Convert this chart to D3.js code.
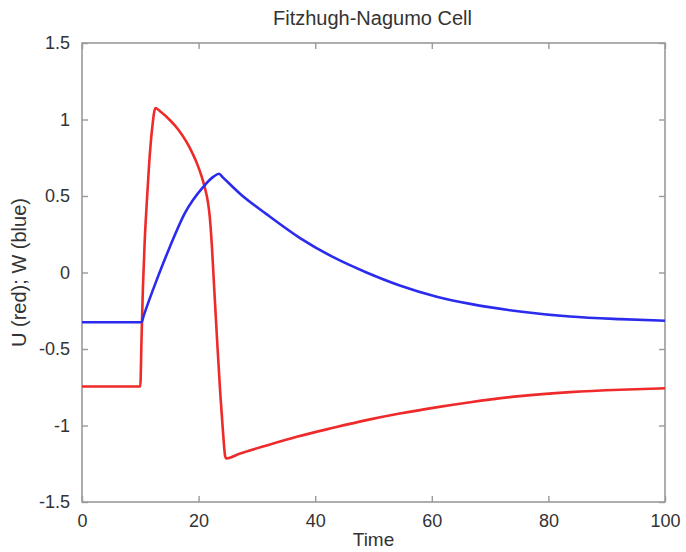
<!DOCTYPE html>
<html>
<head>
<meta charset="utf-8">
<script src="https://cdn.jsdelivr.net/npm/d3@7"></script>
<style>
  html, body { margin: 0; padding: 0; background: #fff; }
  svg { display: block; font-family: "Liberation Sans", Arial, sans-serif; }
</style>
</head>
<body>
<svg id="chart" width="686" height="552"></svg>
<script>
// Fitzhugh-Nagumo cell response: membrane variable U and recovery variable W over time
const timeU = [0, 10, 10.2, 10.45, 10.75, 11.1, 11.5, 12.0, 12.6, 13.5, 15.1, 16.5, 17.9, 19.0, 19.8, 20.5, 21.1, 21.6, 21.9, 22.3, 22.7, 23.2, 23.7, 24.2, 24.55, 24.75, 27.0, 31.7, 37.0, 43.1, 48.8, 54.5, 61.0, 66.6, 75.1, 83.7, 92.3, 100];
const valuesU = [-0.745, -0.745, -0.45, -0.10, 0.20, 0.45, 0.70, 0.93, 1.075, 1.05, 0.995, 0.935, 0.855, 0.775, 0.705, 0.63, 0.55, 0.46, 0.37, 0.16, -0.12, -0.46, -0.78, -1.05, -1.20, -1.215, -1.185, -1.13, -1.072, -1.015, -0.965, -0.922, -0.88, -0.848, -0.808, -0.782, -0.766, -0.757];

const timeW = [0, 10.2, 10.6, 12.8, 15.1, 17.6, 20.8, 22.5, 23.5, 24.2, 27.1, 31.7, 37.4, 43.1, 48.8, 54.5, 61.0, 66.6, 75.1, 83.7, 92.3, 100];
const valuesW = [-0.325, -0.325, -0.28, -0.05, 0.17, 0.385, 0.56, 0.625, 0.645, 0.62, 0.515, 0.38, 0.225, 0.10, 0.0, -0.085, -0.16, -0.205, -0.255, -0.288, -0.305, -0.315];

const xTicks = [0, 20, 40, 60, 80, 100];
const yTicks = [-1.5, -1, -0.5, 0, 0.5, 1, 1.5];
const yTickLabels = ["-1.5", "-1", "-0.5", "0", "0.5", "1", "1.5"];

const titleText = "Fitzhugh-Nagumo Cell";
const xLabel = "Time";
const yLabel = "U (red); W (blue)";

const svg = d3.select("#chart");
const margin = { left: 82, top: 43, right: 21, bottom: 50 };
const W = 686 - margin.left - margin.right;
const H = 552 - margin.top - margin.bottom;

const x = d3.scaleLinear().domain([0, 100]).range([0, W]);
const y = d3.scaleLinear().domain([-1.5, 1.5]).range([H, 0]);

const g = svg.append("g").attr("transform", `translate(${margin.left},${margin.top})`);

const axisColor = "#9a9a9a";
const textColor = "#333";
const fontSize = 18;

// Plot box
g.append("rect")
  .attr("x", 0).attr("y", 0).attr("width", W).attr("height", H)
  .attr("fill", "none").attr("stroke", axisColor).attr("stroke-width", 1.6);

// Inward ticks on all four sides
const tickLen = 6;
function styleAxis(sel) {
  sel.select(".domain").remove();
  sel.selectAll(".tick line").attr("stroke", axisColor).attr("stroke-width", 1.4);
  sel.selectAll(".tick text").attr("fill", textColor).style("font-size", fontSize + "px");
}

const xBottom = g.append("g").attr("transform", `translate(0,${H})`)
  .call(d3.axisBottom(x).tickValues(xTicks).tickFormat(d3.format("d")).tickSizeInner(-tickLen).tickSizeOuter(0).tickPadding(12));
styleAxis(xBottom);

const xTop = g.append("g")
  .call(d3.axisTop(x).tickValues(xTicks).tickFormat("").tickSizeInner(-tickLen).tickSizeOuter(0));
styleAxis(xTop);

const yLeft = g.append("g")
  .call(d3.axisLeft(y).tickValues(yTicks).tickFormat((d, i) => yTickLabels[i]).tickSizeInner(-tickLen).tickSizeOuter(0).tickPadding(12));
styleAxis(yLeft);

const yRight = g.append("g").attr("transform", `translate(${W},0)`)
  .call(d3.axisRight(y).tickValues(yTicks).tickFormat("").tickSizeInner(-tickLen).tickSizeOuter(0));
styleAxis(yRight);

// Curves
const line = d3.line().x(d => x(d[0])).y(d => y(d[1])).curve(d3.curveMonotoneX);
const seriesU = timeU.map((t, i) => [t, valuesU[i]]);
const seriesW = timeW.map((t, i) => [t, valuesW[i]]);

g.append("path").datum(seriesU)
  .attr("d", line).attr("fill", "none")
  .attr("stroke", "#ee2a2a").attr("stroke-width", 2.6).attr("stroke-linejoin", "round");

g.append("path").datum(seriesW)
  .attr("d", line).attr("fill", "none")
  .attr("stroke", "#2b2bee").attr("stroke-width", 2.6).attr("stroke-linejoin", "round");

// Title and axis labels
svg.append("text")
  .attr("x", margin.left + W / 2 - 1).attr("y", 25)
  .attr("text-anchor", "middle").attr("fill", textColor)
  .style("font-size", "20px").text(titleText);

svg.append("text")
  .attr("x", margin.left + W / 2).attr("y", 546)
  .attr("text-anchor", "middle").attr("fill", textColor)
  .style("font-size", "19px").text(xLabel);

svg.append("text")
  .attr("transform", `translate(26,${margin.top + H / 2}) rotate(-90)`)
  .attr("text-anchor", "middle").attr("fill", textColor)
  .style("font-size", "20px").text(yLabel);
</script>
</body>
</html>
